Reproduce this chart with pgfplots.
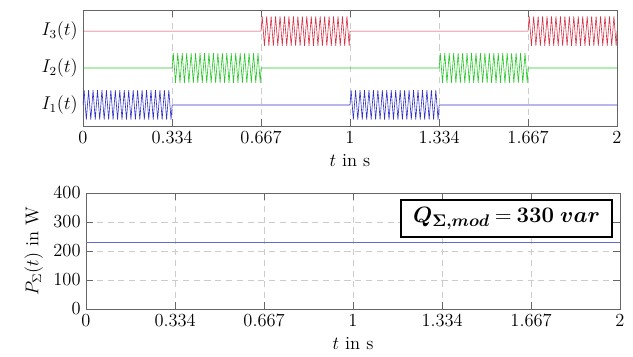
\documentclass[border=0pt]{standalone}
\usepackage{amsmath}
\usepackage{pgfplots}
\pgfplotsset{compat=1.18}
\definecolor{cred}{RGB}{215,50,70}
\definecolor{cgreen}{RGB}{40,200,40}
\definecolor{cblue}{RGB}{50,50,200}
\definecolor{pblue}{RGB}{95,110,195}
\begin{document}
\begin{tikzpicture}
\pgfplotsset{
  common/.style={
    scale only axis, width=347.1pt, height=75.4pt,
    xmin=0, xmax=2,
    xtick={0,0.334,0.667,1,1.334,1.667,2},
    xticklabels={0,0.334,0.667,1,1.334,1.667,2},
    axis line style={black!60},
    every tick/.append style={black!60},
    grid style={dash pattern=on 4pt off 3pt, black!20},
    xmajorgrids,
    xlabel={$t$ in s},
    label style={font=\large},
    tick label style={font=\large},
  }
}
\begin{axis}[common, at={(53.95pt,149.5pt)}, anchor=south west,
  ymin=0.43, ymax=3.57,
  ytick={1,2,3}, yticklabels={$I_1(t)$,$I_2(t)$,$I_3(t)$},
  ytick style={draw=none},
  ]
\addplot[cblue, line width=0.4pt] coordinates {
(0,1) (0.0042,1.4) (0.0125,0.6) (0.0209,1.4) (0.0292,0.6) (0.0376,1.4) (0.0459,0.6) (0.0543,1.4) (0.0626,0.6) (0.0710,1.4) (0.0793,0.6) (0.0877,1.4) (0.0960,0.6) (0.1044,1.4) (0.1127,0.6) (0.1211,1.4) (0.1294,0.6) (0.1378,1.4) (0.1461,0.6) (0.1545,1.4) (0.1628,0.6) (0.1712,1.4) (0.1795,0.6) (0.1879,1.4) (0.1962,0.6) (0.2046,1.4) (0.2129,0.6) (0.2213,1.4) (0.2296,0.6) (0.2380,1.4) (0.2463,0.6) (0.2547,1.4) (0.2630,0.6) (0.2714,1.4) (0.2797,0.6) (0.2881,1.4) (0.2964,0.6) (0.3048,1.4) (0.3131,0.6) (0.3215,1.4) (0.3298,0.6) (0.334,1)
(1,1) (1.0042,1.4) (1.0125,0.6) (1.0209,1.4) (1.0292,0.6) (1.0376,1.4) (1.0459,0.6) (1.0543,1.4) (1.0626,0.6) (1.0710,1.4) (1.0793,0.6) (1.0877,1.4) (1.0960,0.6) (1.1044,1.4) (1.1127,0.6) (1.1211,1.4) (1.1294,0.6) (1.1378,1.4) (1.1461,0.6) (1.1545,1.4) (1.1628,0.6) (1.1712,1.4) (1.1795,0.6) (1.1879,1.4) (1.1962,0.6) (1.2046,1.4) (1.2129,0.6) (1.2213,1.4) (1.2296,0.6) (1.2380,1.4) (1.2463,0.6) (1.2547,1.4) (1.2630,0.6) (1.2714,1.4) (1.2797,0.6) (1.2881,1.4) (1.2964,0.6) (1.3048,1.4) (1.3131,0.6) (1.3215,1.4) (1.3298,0.6) (1.334,1)
(2,1)
};
\addplot[cgreen, line width=0.4pt] coordinates {
(0,2) (0.334,2) (0.3382,2.4) (0.3465,1.6) (0.3549,2.4) (0.3632,1.6) (0.3716,2.4) (0.3799,1.6) (0.3883,2.4) (0.3966,1.6) (0.4050,2.4) (0.4133,1.6) (0.4217,2.4) (0.4300,1.6) (0.4384,2.4) (0.4467,1.6) (0.4551,2.4) (0.4634,1.6) (0.4718,2.4) (0.4801,1.6) (0.4885,2.4) (0.4968,1.6) (0.5052,2.4) (0.5135,1.6) (0.5219,2.4) (0.5302,1.6) (0.5386,2.4) (0.5469,1.6) (0.5553,2.4) (0.5636,1.6) (0.5720,2.4) (0.5803,1.6) (0.5887,2.4) (0.5970,1.6) (0.6054,2.4) (0.6137,1.6) (0.6221,2.4) (0.6304,1.6) (0.6388,2.4) (0.6471,1.6) (0.6555,2.4) (0.6638,1.6) (0.667,2)
(1.334,2) (1.3382,2.4) (1.3465,1.6) (1.3549,2.4) (1.3632,1.6) (1.3716,2.4) (1.3799,1.6) (1.3883,2.4) (1.3966,1.6) (1.4050,2.4) (1.4133,1.6) (1.4217,2.4) (1.4300,1.6) (1.4384,2.4) (1.4467,1.6) (1.4551,2.4) (1.4634,1.6) (1.4718,2.4) (1.4801,1.6) (1.4885,2.4) (1.4968,1.6) (1.5052,2.4) (1.5135,1.6) (1.5219,2.4) (1.5302,1.6) (1.5386,2.4) (1.5469,1.6) (1.5553,2.4) (1.5636,1.6) (1.5720,2.4) (1.5803,1.6) (1.5887,2.4) (1.5970,1.6) (1.6054,2.4) (1.6137,1.6) (1.6221,2.4) (1.6304,1.6) (1.6388,2.4) (1.6471,1.6) (1.6555,2.4) (1.6638,1.6) (1.667,2)
(2,2)
};
\addplot[cred, line width=0.4pt] coordinates {
(0,3) (0.667,3) (0.6712,3.4) (0.6795,2.6) (0.6879,3.4) (0.6962,2.6) (0.7046,3.4) (0.7129,2.6) (0.7213,3.4) (0.7296,2.6) (0.7380,3.4) (0.7463,2.6) (0.7547,3.4) (0.7630,2.6) (0.7714,3.4) (0.7797,2.6) (0.7881,3.4) (0.7964,2.6) (0.8048,3.4) (0.8131,2.6) (0.8215,3.4) (0.8298,2.6) (0.8382,3.4) (0.8465,2.6) (0.8549,3.4) (0.8632,2.6) (0.8716,3.4) (0.8799,2.6) (0.8883,3.4) (0.8966,2.6) (0.9050,3.4) (0.9133,2.6) (0.9217,3.4) (0.9300,2.6) (0.9384,3.4) (0.9467,2.6) (0.9551,3.4) (0.9634,2.6) (0.9718,3.4) (0.9801,2.6) (0.9885,3.4) (0.9968,2.6) (1,3)
(1.667,3) (1.6712,3.4) (1.6795,2.6) (1.6879,3.4) (1.6962,2.6) (1.7046,3.4) (1.7129,2.6) (1.7213,3.4) (1.7296,2.6) (1.7380,3.4) (1.7463,2.6) (1.7547,3.4) (1.7630,2.6) (1.7714,3.4) (1.7797,2.6) (1.7881,3.4) (1.7964,2.6) (1.8048,3.4) (1.8131,2.6) (1.8215,3.4) (1.8298,2.6) (1.8382,3.4) (1.8465,2.6) (1.8549,3.4) (1.8632,2.6) (1.8716,3.4) (1.8799,2.6) (1.8883,3.4) (1.8966,2.6) (1.9050,3.4) (1.9133,2.6) (1.9217,3.4) (1.9300,2.6) (1.9384,3.4) (1.9467,2.6) (1.9551,3.4) (1.9634,2.6) (1.9718,3.4) (1.9801,2.6) (1.9885,3.4) (1.9968,2.6) (2,3)
};
\end{axis}
\begin{axis}[common, at={(55.9pt,30.55pt)}, anchor=south west,
  ymin=0, ymax=400, ytick={0,100,200,300,400},
  ymajorgrids,
  ylabel={$P_{\Sigma}(t)$ in W},
  ]
\addplot[pblue, line width=0.8pt] coordinates {(0,230) (2,230)};
\coordinate (qpos) at (axis cs:1.575,313);
\end{axis}
\node[draw, line width=1.2pt, fill=white, minimum width=137pt, minimum height=24pt, inner sep=1pt] at (qpos) {\fontsize{15.5}{18}\selectfont $\boldsymbol{Q_{\Sigma,mod}} \mathbin{\mathbf{=}} \mathbf{330}\;\boldsymbol{var}$};
\pgfresetboundingbox
\path (0,0) rectangle (411.45pt,231.4pt);
\end{tikzpicture}
\end{document}
